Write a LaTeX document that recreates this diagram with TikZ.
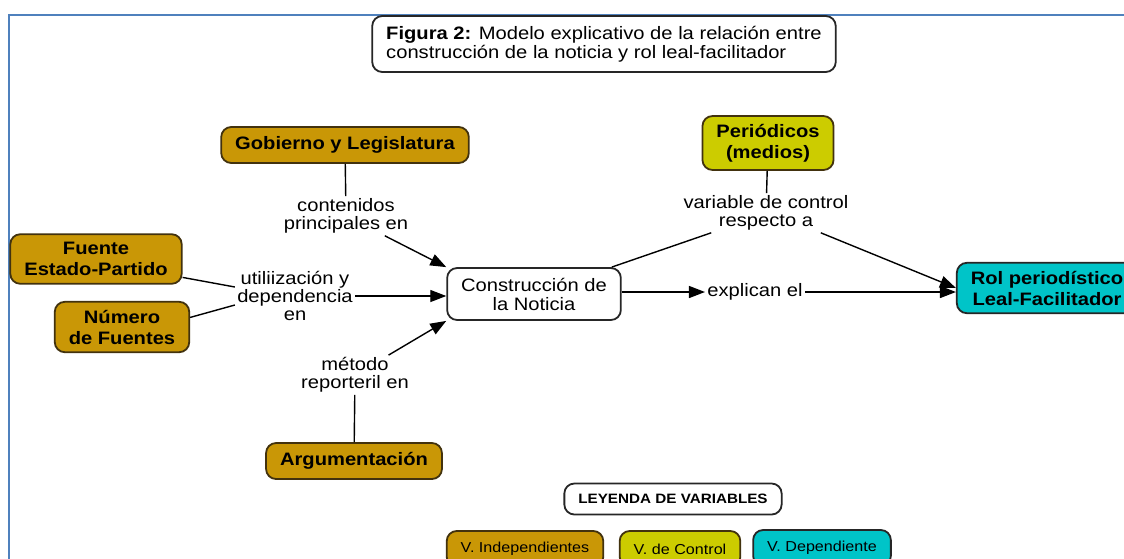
\documentclass[tikz,border=0pt]{standalone}
\usepackage{fontspec}
\setmainfont{Liberation Sans}[FakeStretch=1.12]
\usepackage{tikz}
\usetikzlibrary{shapes,arrows,arrows.meta}
\usetikzlibrary{positioning}
\definecolor{oro}{RGB}{201,151,6}
\definecolor{oroborde}{RGB}{66,50,14}
\definecolor{lima}{RGB}{204,204,0}
\definecolor{turquesa}{RGB}{0,196,200}
\definecolor{marco}{RGB}{79,129,189}
\tikzstyle{arrow} = [line width=0.7pt,-{Triangle[length=8pt,width=6pt]}]
\tikzstyle{linea} = [line width=0.7pt]
\tikzstyle{caja} = [
    rectangle, rounded corners=5pt, draw=black!85, line width=0.9pt,
    align=center, inner xsep=7pt, inner ysep=4pt, minimum height=18pt]
\tikzstyle{indep} = [caja, fill=oro, draw=oroborde, font=\bfseries\fontsize{9}{10.5}\selectfont]
\tikzstyle{control} = [caja, fill=lima, draw=oroborde, font=\bfseries\fontsize{9}{10.5}\selectfont]
\tikzstyle{dep} = [caja, fill=turquesa, draw=black!85, font=\bfseries\fontsize{9}{10.5}\selectfont]
\tikzstyle{leyenda} = [caja, font=\fontsize{7.2}{8}\selectfont]
\tikzstyle{etiqueta} = [align=center, inner sep=1pt, font=\fontsize{9}{9}\selectfont]

\begin{document}
\fontsize{9}{9.5}\selectfont
\begin{tikzpicture}[x=0.5pt,y=-0.5pt]
\clip (0,0) rectangle (1124,558);
\fill[white] (0,0) rectangle (1124,558);
\draw[marco, line width=1pt] (9,15) rectangle (1300,700);

\node (titulo) [caja, align=left, minimum height=28pt] at (604,44) {
    \textbf{Figura 2:} Modelo explicativo de la relación entre \\
    construcción de la noticia y rol leal-facilitador
};

% variables
\node (gobierno) [indep] at (345,145) {Gobierno y Legislatura};
\node (fuente) [indep] at (96,259) {Fuente \\ Estado-Partido};
\node (numero) [indep] at (122,327) {Número \\ de Fuentes};
\node (argum) [indep] at (354,461) {Argumentación};
\node (perio) [control] at (768,143) {Periódicos \\ (medios)};
\node (constr) [caja, minimum height=26pt] at (534,294) {Construcción de \\ la Noticia};
\node (rol) [dep] at (1047,288) {Rol periodístico \\ Leal-Facilitador};

% etiquetas
\node (lab1) [etiqueta] at (346,216) {contenidos \\ principales en};
\node (lab2) [etiqueta] at (295,296) {utiliización y \\ dependencia \\ en};
\node (lab3) [etiqueta] at (355,375) {método \\ reporteril en};
\node (lab4) [etiqueta] at (766,213) {variable de control \\ respecto a};
\node (lab5) [etiqueta] at (755,292) {explican el};

\draw [linea] (gobierno) -- (lab1);
\draw [arrow] (lab1) -- (constr.north west);
\draw [linea] (fuente.-12) -- ([yshift=4.5pt]lab2.west);
\draw [linea] (numero.8) -- ([yshift=-4.5pt]lab2.west);
\draw [arrow] (lab2.east) -- (lab2.east -| constr.west);
\draw [linea] (argum) -- (lab3);
\draw [arrow] (lab3) -- (constr.south west);
\draw [linea] (perio) -- (lab4);
\draw [linea] ([xshift=-5pt]constr.north east) -- ([xshift=15pt]lab4.south west);
\draw [arrow] ([xshift=-15pt]lab4.south east) -- (rol.west);
\draw [arrow] (lab5.west -| constr.east) -- (lab5.west);
\draw [arrow] (lab5.east) -- (lab5.east -| rol.west);

% leyenda
\node (leyenda) [leyenda, font=\bfseries\fontsize{6.8}{8}\selectfont, minimum height=15.5pt] at (673,499) {LEYENDA DE VARIABLES};
\node (vind) [leyenda, fill=oro, draw=oroborde] at (525,549) {V. Independientes};
\node (vctrl) [leyenda, fill=lima, draw=oroborde] at (680,549) {V. de Control};
\node (vdep) [leyenda, fill=turquesa] at (822,548) {V. Dependiente};
\end{tikzpicture}
\end{document}
